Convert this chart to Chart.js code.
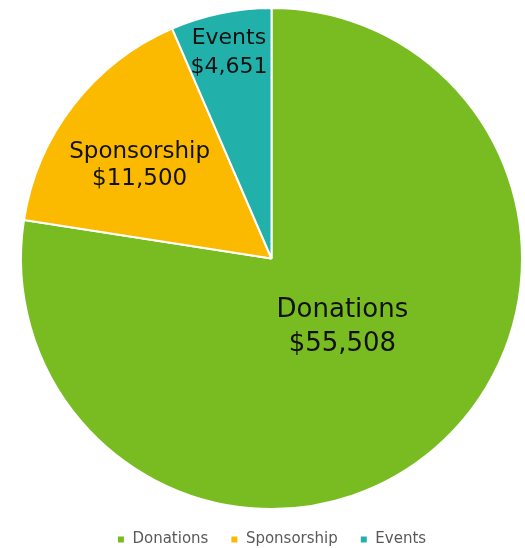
<!DOCTYPE html>
<html>
<head>
<meta charset="utf-8">
<script src="https://cdn.jsdelivr.net/npm/chart.js@4"></script>
<style>
  html, body { margin: 0; padding: 0; background: #fff; }
  #wrap { width: 525px; height: 548px; position: relative; }
</style>
</head>
<body>
<div id="wrap"><canvas id="fundingPie"></canvas></div>
<script>
// data
const categories = ['Donations', 'Sponsorship', 'Events'];
const amounts = [55508, 11500, 4651];
const sliceColors = ['#78bc22', '#fbba00', '#22b1aa'];

// in-slice label placement (Excel "best fit" look): radius fraction, angle nudge in degrees
const labelRadius = [0.393, 0.643, 0.84];
const labelNudge = [-5.5, -2.7, 0];
const labelFontSize = [26, 23, 22];
const labelLineGap = [34, 27, 29];

function money(v) {
    return '$' + v.toLocaleString('en-US');
}

const sliceLabels = {
    id: 'sliceLabels',
    afterDatasetsDraw(chart) {
        const ctx = chart.ctx;
        const meta = chart.getDatasetMeta(0);
        meta.data.forEach((arc, i) => {
            const mid = (arc.startAngle + arc.endAngle) / 2 + labelNudge[i] * Math.PI / 180;
            const r = arc.outerRadius * labelRadius[i];
            const x = arc.x + Math.cos(mid) * r;
            const y = arc.y + Math.sin(mid) * r;
            const lh = labelLineGap[i];
            ctx.save();
            ctx.fillStyle = '#111';
            ctx.textAlign = 'center';
            ctx.textBaseline = 'middle';
            ctx.font = labelFontSize[i] + "px 'DejaVu Sans', sans-serif";
            ctx.fillText(categories[i], x, y - lh / 2);
            ctx.fillText(money(amounts[i]), x, y + lh / 2);
            ctx.restore();
        });
    }
};

// legend sits low under the pie: keep its padding but take less room from the chart area
const snugLegend = {
    id: 'snugLegend',
    afterInit(chart) {
        const legend = chart.legend;
        const origFit = legend.fit;
        legend.fit = function () {
            origFit.call(this);
            this.height = 38;
        };
    }
};

new Chart(document.getElementById('fundingPie').getContext('2d'), {
    type: 'pie',
    data: {
        labels: categories,
        datasets: [{
            data: amounts,
            backgroundColor: sliceColors,
            borderColor: '#ffffff',
            borderWidth: 2
        }]
    },
    options: {
        responsive: true,
        maintainAspectRatio: false,
        animation: false,
        layout: { padding: { top: 7, left: 18, right: 0, bottom: 0 } },
        plugins: {
            tooltip: { enabled: false },
            legend: {
                position: 'bottom',
                labels: {
                    boxWidth: 8,
                    boxHeight: 8,
                    padding: 22,
                    color: '#595959',
                    font: { size: 15, family: "'DejaVu Sans', sans-serif" }
                }
            }
        }
    },
    plugins: [snugLegend, sliceLabels]
});
</script>
</body>
</html>
